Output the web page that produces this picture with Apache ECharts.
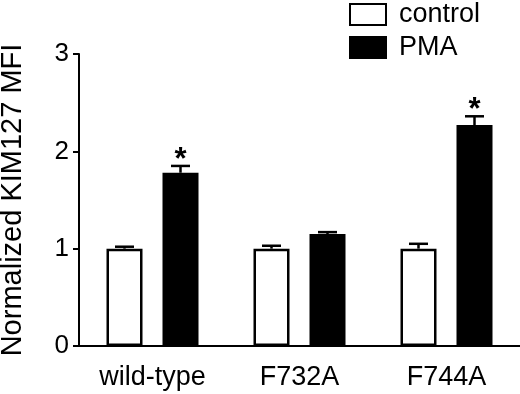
<!DOCTYPE html>
<html>
<head>
<meta charset="utf-8">
<script src="https://cdn.jsdelivr.net/npm/echarts@6/dist/echarts.min.js"></script>
<style>html,body{margin:0;padding:0;background:#fff}#c{width:520px;height:394px}</style>
</head>
<body>
<div id="c"></div>
<script>
var categories = ['wild-type', 'F732A', 'F744A'];
var controlValues = [1.00, 1.00, 1.00];
var controlErrors = [0.02, 0.03, 0.05];
var pmaValues = [1.78, 1.15, 2.27];
var pmaErrors = [0.07, 0.02, 0.09];
var pmaStars = ['*', '', '*'];
var yTicks = [0, 1, 2, 3];

var FONT = '"Liberation Sans", Arial, Helvetica, sans-serif';
var BAR_W = 36, BAR_GAP = 20;
var OFFSET = (BAR_W + BAR_GAP) / 2;

function errRender(offset, stars) {
  return function (params, api) {
    var i = api.value(0), v = api.value(1), e = api.value(2);
    var base = api.coord([i, v]);
    var top = api.coord([i, v + e]);
    var x = base[0] + offset;
    var children = [
      {type: 'line', shape: {x1: x, y1: base[1], x2: x, y2: top[1]}, style: {stroke: '#000', lineWidth: 2.5}},
      {type: 'line', shape: {x1: x - 9.5, y1: top[1], x2: x + 9.5, y2: top[1]}, style: {stroke: '#000', lineWidth: 2.5}}
    ];
    if (stars && stars[i]) {
      children.push({type: 'text', x: x, y: top[1] - 21,
        style: {text: stars[i], font: 'bold 31px ' + FONT, fill: '#000', align: 'center', verticalAlign: 'top'}});
    }
    return {type: 'group', children: children};
  };
}

var chart = echarts.init(document.getElementById('c'), null, {renderer: 'canvas'});
chart.setOption({
  animation: false,
  backgroundColor: '#fff',
  textStyle: {fontFamily: FONT, color: '#000'},
  grid: {left: 79, right: 0, top: 54, bottom: 48, containLabel: false, outerBoundsMode: 'none'},
  legend: {
    orient: 'vertical', left: 344, top: -4, itemWidth: 36, itemHeight: 21, itemGap: 6,
    icon: 'rect',
    textStyle: {fontFamily: FONT, fontSize: 27, color: '#000', padding: [0, 0, 0, 8]},
    data: ['control', 'PMA']
  },
  xAxis: {
    type: 'category', data: categories,
    axisLine: {lineStyle: {color: '#000', width: 2}},
    axisTick: {alignWithLabel: true, length: 8, lineStyle: {color: '#000', width: 2}},
    axisLabel: {fontFamily: FONT, fontSize: 27, color: '#000', margin: 18}
  },
  yAxis: {
    type: 'value', min: 0, max: 3, interval: 1,
    name: 'Normalized KIM127 MFI', nameLocation: 'middle', nameRotate: 90, nameGap: 52,
    nameTextStyle: {fontFamily: FONT, fontSize: 29, color: '#000'},
    splitLine: {show: false},
    axisLine: {show: true, lineStyle: {color: '#000', width: 2}},
    axisTick: {show: true, length: 6, lineStyle: {color: '#000', width: 2}},
    axisLabel: {fontFamily: FONT, fontSize: 26, color: '#000', margin: 10,
      formatter: function (v) { return yTicks.indexOf(v) >= 0 ? String(v) : ''; }}
  },
  series: [
    {name: 'control', type: 'bar', data: controlValues, barWidth: BAR_W, barGap: (BAR_GAP / BAR_W * 100) + '%',
      itemStyle: {color: '#fff', borderColor: '#000', borderWidth: 2.5}},
    {name: 'PMA', type: 'bar', data: pmaValues, barWidth: BAR_W,
      itemStyle: {color: '#000', borderColor: '#000', borderWidth: 2.5}},
    {type: 'custom', renderItem: errRender(-OFFSET, null), z: 5,
      data: controlValues.map(function (v, i) { return [i, v, controlErrors[i]]; })},
    {type: 'custom', renderItem: errRender(OFFSET, pmaStars), z: 5,
      data: pmaValues.map(function (v, i) { return [i, v, pmaErrors[i]]; })}
  ]
});
</script>
</body>
</html>
